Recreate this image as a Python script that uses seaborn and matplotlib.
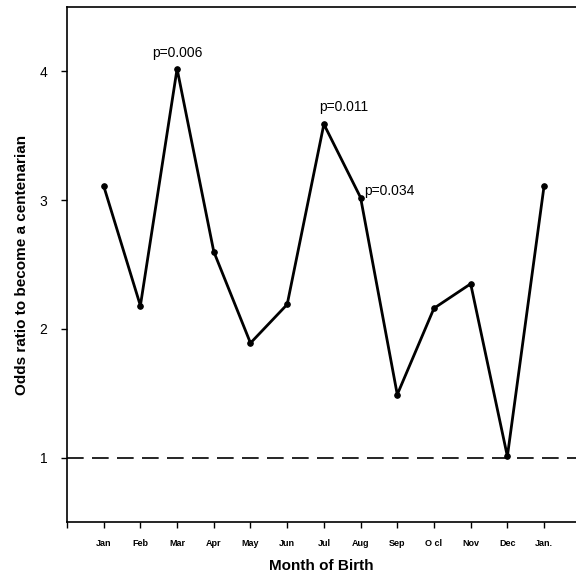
import matplotlib
matplotlib.use('Agg')
import numpy as np
import pandas as pd
import matplotlib.pyplot as plt
import seaborn as sns

# Data
months = ['Jan', 'Feb', 'Mar', 'Apr', 'May', 'Jun', 'Jul', 'Aug', 'Sep', 'O cl', 'Nov', 'Dec', 'Jan.']
odds_ratio = [3.11, 2.18, 4.02, 2.60, 1.89, 2.19, 3.59, 3.02, 1.49, 2.16, 2.35, 1.01, 3.11]
p_labels = {'Mar': 'p=0.006', 'Jul': 'p=0.011', 'Aug': 'p=0.034'}

df = pd.DataFrame({'pos': np.arange(1, len(months) + 1), 'month': months, 'odds': odds_ratio})

sns.set_style('ticks', {'text.color': 'black', 'axes.labelcolor': 'black',
                        'xtick.color': 'black', 'ytick.color': 'black',
                        'axes.edgecolor': 'black'})
plt.rcParams['font.family'] = ['Liberation Sans', 'DejaVu Sans']

fig = plt.figure(figsize=(5.76, 5.83), dpi=100)
ax = fig.add_axes([0.1163, 0.1046, 0.8837, 0.8834])

sns.lineplot(data=df, x='pos', y='odds', sort=False, color='black', linewidth=2.0,
             marker='o', markersize=4, markeredgecolor='black', ax=ax)
ax.axhline(1, color='black', linewidth=1.2, linestyle=(0, (10, 5)))

# p-value annotations
ax.text(3, 4.09, p_labels['Mar'], ha='center', va='bottom', fontsize=10)
ax.text(7.55, 3.67, p_labels['Jul'], ha='center', va='bottom', fontsize=10)
ax.text(8.1, 3.02, p_labels['Aug'], ha='left', va='bottom', fontsize=10)

ax.set_xlim(0, 13.87)
ax.set_ylim(0.5, 4.5)
ax.set_yticks([1, 2, 3, 4])
ax.set_xticks(np.arange(0, len(months) + 1))
ax.set_xticklabels([''] + months, fontsize=6.5, fontweight='bold')
ax.tick_params(axis='y', labelsize=10, length=4, width=1, pad=10)
ax.tick_params(axis='x', length=4, width=1, pad=8)

ax.spines['right'].set_visible(False)
for s in ['left', 'bottom', 'top']:
    ax.spines[s].set_linewidth(1.2)

ax.set_xlabel('Month of Birth', fontsize=11, fontweight='bold', labelpad=8)
ax.set_ylabel('Odds ratio to become a centenarian', fontsize=11, fontweight='bold', labelpad=8)

fig.savefig('out.png', dpi=100)
